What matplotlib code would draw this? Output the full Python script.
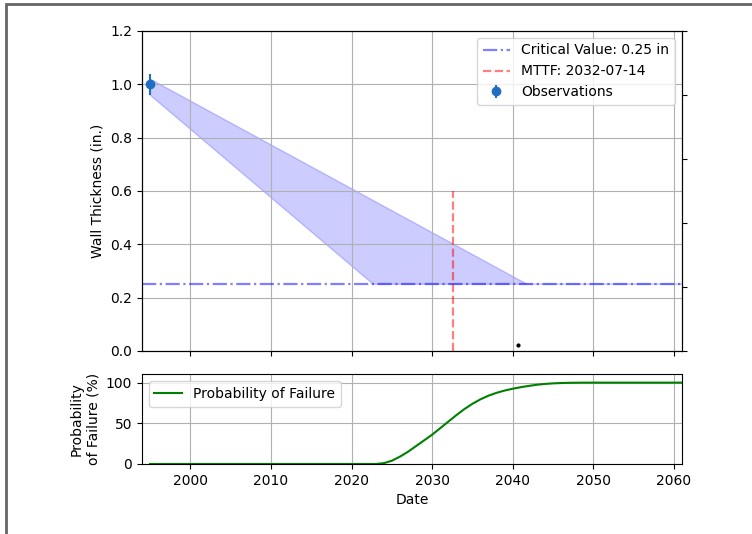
import matplotlib
matplotlib.use("Agg")
import matplotlib.pyplot as plt
from matplotlib.patches import Rectangle

# Observed wall thickness
obs_year = [1995.0]
obs_thickness = [1.0]
obs_err = [0.04]

# Confidence band for the thickness projection (corner points, in.)
upper_years = [1995.0, 2041.8, 2061.0]
upper_vals = [1.02, 0.25, 0.25]
lower_years = [1995.0, 2022.7, 2061.0]
lower_vals = [0.96, 0.25, 0.25]

critical_value = 0.25
mttf_year = 2032.53
mttf_label = "2032-07-14"

# Cumulative probability of failure (%) by year
pof_years = list(range(1995, 2062))
pof_vals = ([0.0] * 29 +                       # 1995-2023
            [1.0, 4.0, 9.0, 15.0, 22.0, 29.0, 36.0, 44.0, 52.0, 60.0,
             67.5, 74.0, 79.5, 84.0, 87.5, 90.3, 92.5, 94.4, 96.0, 97.4,
             98.4, 99.1, 99.5, 99.8, 99.9] +   # 2024-2048
            [100.0] * 13)                      # 2049-2061

# Auxiliary marker on the secondary axis
aux_x = [2040.7]
aux_y = [0.09]

fig = plt.figure(figsize=(7.52, 5.34), dpi=100)
ax = fig.add_axes([0.1888, 0.3427, 0.7181, 0.5993])
ax2 = fig.add_axes([0.1888, 0.1311, 0.7181, 0.1676], sharex=ax)

# Thickness band
band_x = upper_years + lower_years[::-1]
band_y = upper_vals + lower_vals[::-1]
ax.fill(band_x, band_y, color="blue", alpha=0.2, lw=1)

ax.axhline(critical_value, color="blue", alpha=0.5, ls="-.", lw=1.6,
           label=f"Critical Value: {critical_value} in")
ax.axvline(mttf_year, ymin=0, ymax=0.5, color="red", alpha=0.5, ls="--", lw=1.6,
           label=f"MTTF: {mttf_label}")
ax.errorbar(obs_year, obs_thickness, yerr=obs_err, fmt="o", color="#1f6fc0",
            elinewidth=1.5, markersize=6, label="Observations")

ax.set_ylim(0, 1.2)
ax.set_xlim(1994.0, 2061.0)
ax.set_ylabel("Wall Thickness (in.)")
ax.grid(True)
ax.tick_params(labelbottom=False)
ax.legend(loc="upper right")

# Secondary axis
twin = ax.twinx()
twin.set_ylim(0, 5)
twin.set_yticks([0, 1, 2, 3, 4, 5])
twin.tick_params(labelright=False)
twin.plot(aux_x, aux_y, ".", color="black", markersize=4)

# Probability of failure
ax2.plot(pof_years, pof_vals, color="green", lw=1.5, label="Probability of Failure")
ax2.set_ylim(0, 110)
ax2.set_yticks([0, 50, 100])
ax2.set_xticks([2000, 2010, 2020, 2030, 2040, 2050, 2060])
ax2.set_ylabel("Probability\nof Failure (%)")
ax2.set_xlabel("Date")
ax2.grid(True)
ax2.legend(loc="upper left")

# Outer frame
fig.patches.append(Rectangle((0.008, -0.05), 1.2, 0.0425 + 1.0, transform=fig.transFigure,
                             fill=False, edgecolor="#666666", lw=2))

fig.savefig("out.png", dpi=100)
